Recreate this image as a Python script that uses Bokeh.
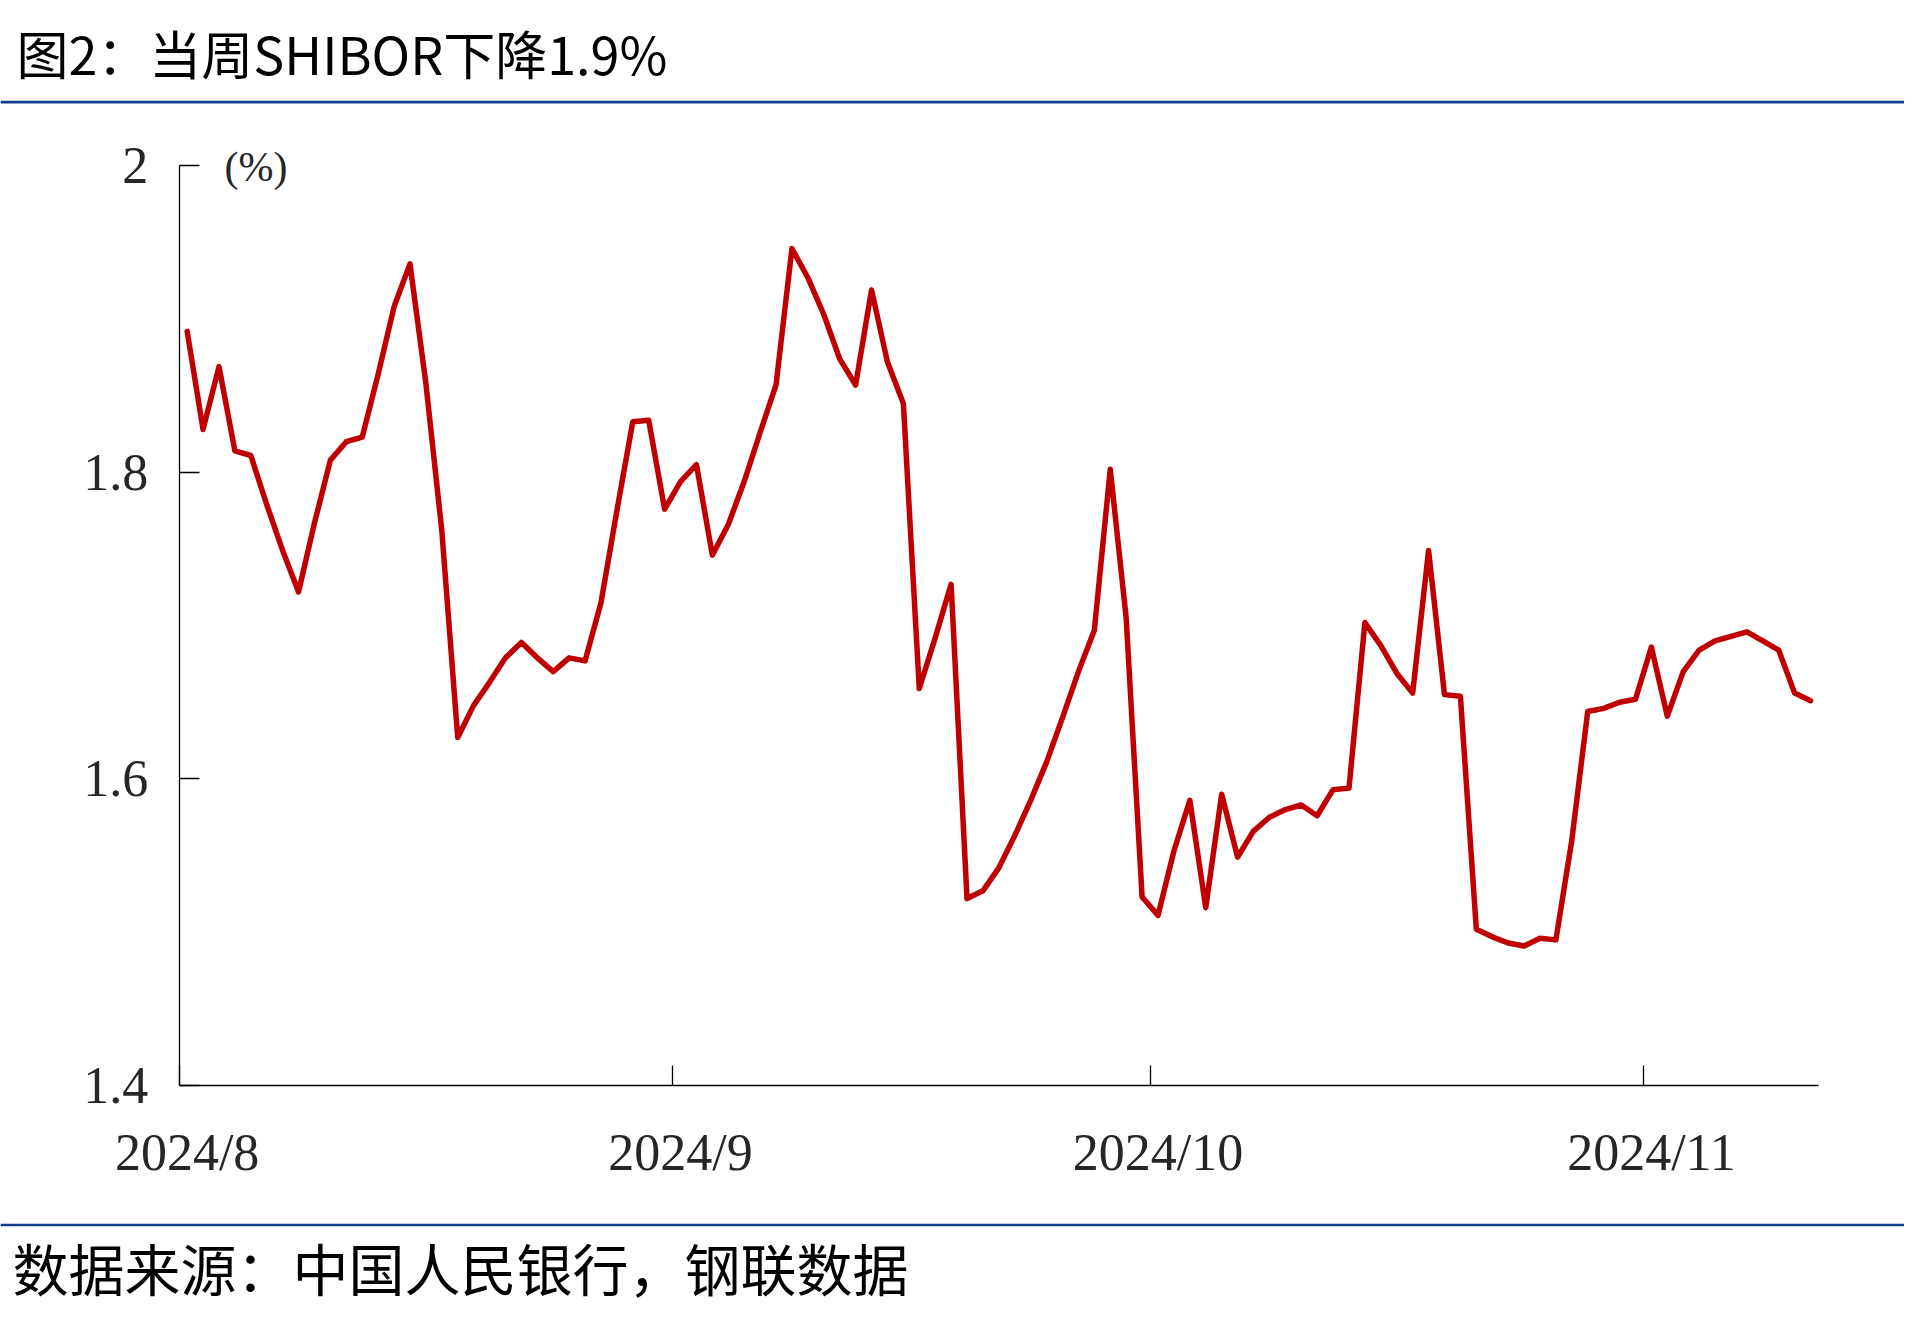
import pandas as pd
from bokeh.plotting import figure
from bokeh.models import Range1d, FixedTicker, LinearAxis, Label, Span
from bokeh.embed import file_html
from bokeh.resources import INLINE

# ---------------- data ----------------
start_date = "2024-08-01"
values = [1.892, 1.828, 1.869, 1.814, 1.811, 1.779, 1.749, 1.722, 1.767, 1.808,
          1.820, 1.823, 1.864, 1.908, 1.936, 1.858, 1.762, 1.627, 1.648, 1.663,
          1.679, 1.689, 1.679, 1.670, 1.679, 1.677, 1.715, 1.775, 1.833, 1.834,
          1.776, 1.794, 1.805, 1.746, 1.766, 1.794, 1.826, 1.857, 1.946, 1.927,
          1.903, 1.874, 1.857, 1.919, 1.872, 1.845, 1.659, 1.692, 1.727, 1.522,
          1.527, 1.542, 1.563, 1.586, 1.611, 1.640, 1.670, 1.697, 1.802, 1.705,
          1.523, 1.511, 1.553, 1.586, 1.516, 1.590, 1.549, 1.566, 1.575, 1.580,
          1.583, 1.576, 1.593, 1.594, 1.702, 1.687, 1.669, 1.656, 1.749, 1.655,
          1.654, 1.502, 1.497, 1.493, 1.491, 1.496, 1.495, 1.560, 1.644, 1.646,
          1.650, 1.652, 1.686, 1.641, 1.670, 1.684, 1.690, 1.693, 1.696, 1.690,
          1.684, 1.656, 1.651]
month_starts = ["2024-08-01", "2024-09-01", "2024-10-01", "2024-11-01"]
month_labels = ["2024/8", "2024/9", "2024/10", "2024/11"]
y_ticks = [1.4, 1.6, 1.8, 2.0]
y_labels = ["1.4", "1.6", "1.8", "2"]

title_text = "图2：当周SHIBOR下降1.9%"
source_text = "数据来源：中国人民银行，钢联数据"
unit_text = "(%)"

dates = pd.date_range(start_date, periods=len(values), freq="D")
x = [(d - dates[0]).days for d in dates]
month_idx = [(pd.Timestamp(m) - dates[0]).days for m in month_starts]

# ---------------- layout / styles ----------------
W, H = 1904, 1315
# pixel box of the axes area on the canvas
AX_L, AX_R, AX_T, AX_B = 178.7, 1818.0, 165.3, 1085.0
x_lo, x_hi = -0.5, len(values) - 0.5
y_lo, y_hi = y_ticks[0], y_ticks[-1]
ppx = (AX_R - AX_L) / (x_hi - x_lo)
ppy = (AX_B - AX_T) / (y_hi - y_lo)


def px_x(px):
    return x_lo + (px - AX_L) / ppx


def px_y(py):
    return y_hi - (py - AX_T) / ppy


RED = "#C00000"
BLUE = "#123C8C"
SERIF = "Liberation Serif"
CJK = "Noto Sans CJK SC"
TXT = "#262626"

p = figure(width=W, height=H, output_backend="svg", toolbar_location=None,
           x_range=Range1d(px_x(0), px_x(W)), y_range=Range1d(px_y(H), px_y(0)),
           min_border=0, x_axis_type=None, y_axis_type=None)
p.outline_line_color = None
p.background_fill_color = "white"
p.border_fill_color = "white"

p.line(x, values, line_color=RED, line_width=5.5, line_join="round", line_cap="round")

# y axis
yax = LinearAxis(ticker=FixedTicker(ticks=y_ticks), fixed_location=x_lo, bounds=(y_lo, y_hi),
                 major_label_overrides={t: l for t, l in zip(y_ticks, y_labels)})
yax.axis_line_color = "black"
yax.axis_line_width = 1.3
yax.major_tick_in = 20
yax.major_tick_out = 0
yax.major_tick_line_color = "black"
yax.major_tick_line_width = 1.3
yax.minor_tick_line_color = None
yax.major_label_standoff = 31
yax.major_label_text_font = SERIF
yax.major_label_text_font_size = "52px"
yax.major_label_text_color = TXT
p.add_layout(yax, "left")

# x axis: tick marks at month boundaries
xtick = LinearAxis(ticker=FixedTicker(ticks=[m - 0.5 for m in month_idx]),
                   fixed_location=y_lo, bounds=(x_lo, x_hi),
                   major_label_overrides={m - 0.5: "" for m in month_idx})
xtick.axis_line_color = "black"
xtick.axis_line_width = 1.3
xtick.major_tick_in = 20
xtick.major_tick_out = 0
xtick.major_tick_line_color = "black"
xtick.major_tick_line_width = 1.3
xtick.minor_tick_line_color = None
xtick.major_label_standoff = 0
xtick.major_label_text_font_size = "1px"
xtick.major_label_text_alpha = 0
p.add_layout(xtick, "below")

# x axis: month labels on the first day of each month
xlab = LinearAxis(ticker=FixedTicker(ticks=month_idx), fixed_location=y_lo,
                  major_label_overrides={m: l for m, l in zip(month_idx, month_labels)})
xlab.axis_line_color = None
xlab.major_tick_line_color = None
xlab.minor_tick_line_color = None
xlab.major_label_standoff = 32
xlab.major_label_text_font = SERIF
xlab.major_label_text_font_size = "52px"
xlab.major_label_text_color = TXT
p.add_layout(xlab, "below")

# unit label
p.add_layout(Label(x=px_x(224), y=px_y(166), text=unit_text, text_font=SERIF,
                   text_font_size="42px", text_color=TXT,
                   text_baseline="middle", text_align="left"))

# title, source and blue rules
p.add_layout(Label(x=px_x(16), y=px_y(52), text=title_text,
                   text_font=CJK, text_font_size="52px", text_color="black",
                   text_baseline="middle", text_align="left"))
p.add_layout(Label(x=px_x(12), y=px_y(1266), text=source_text,
                   text_font=CJK, text_font_size="56px", text_color="black",
                   text_baseline="middle", text_align="left"))
for py in (101.6, 1224.5):
    p.add_layout(Span(location=px_y(py), dimension="width",
                      line_color=BLUE, line_width=2.6))

open("out.html", "w").write(file_html(p, INLINE))
